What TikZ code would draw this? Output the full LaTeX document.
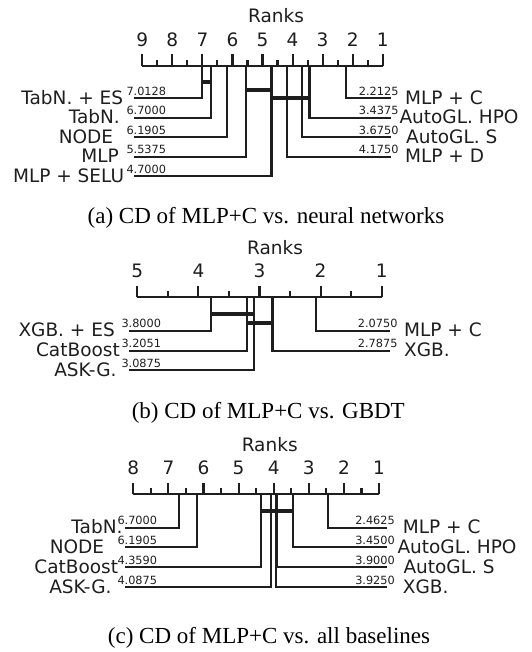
\documentclass[tikz,border=0pt]{standalone}
\usepackage{fontspec}
\setmainfont{Liberation Serif}
\newfontfamily\dejavu{DejaVu Sans}
\definecolor{inkColor}{RGB}{30,30,30}
\tikzstyle{cdFigure} = [x = 1pt, y = -1pt]
\tikzstyle{rankLine} = [color=inkColor, line width=2.1pt]
\tikzstyle{cliqueLine} = [color=inkColor, line width=4pt]
\tikzstyle{methodText} = [text=inkColor, inner sep=0pt, font=\dejavu\fontsize{18.5}{20}\selectfont]
\tikzstyle{rankValue} = [text=inkColor, inner sep=0pt, font=\dejavu\fontsize{11.3}{12}\selectfont]
\tikzstyle{captionText} = [text=black, inner sep=0pt, font=\fontsize{23}{25}\selectfont]
\newcommand{\rankAxis}[6]{
  \pgfmathsetmacro{\axisY}{#2}
  \pgfmathsetmacro{\axisLeft}{#3}
  \pgfmathsetmacro{\axisRight}{#4}
  \pgfmathsetmacro{\rankCount}{#5}
  \pgfmathsetmacro{\lineLeft}{#3 - 8.5}
  \pgfmathsetmacro{\lineRight}{#4 + 8}
  \pgfmathsetmacro{\halfStep}{(#4 - #3) / (2 * #5 - 2)}
  \pgfmathtruncatemacro{\tickCount}{2 * #5 - 2}
  \draw [rankLine] (#3, #2) -- (#4, #2);
  \foreach \tick in {0,...,\tickCount} {
    \pgfmathsetmacro{\tickX}{#3 + \tick * \halfStep}
    \ifodd \tick
      \draw [rankLine] (\tickX, #2) -- + (0, -6);
    \else
      \pgfmathtruncatemacro{\tickRank}{#5 - \tick / 2}
      \draw [rankLine] (\tickX, #2) -- + (0, -11.5);
      \node [methodText, anchor=base] (#1-tick\tickRank) at (\tickX, #2 - 19.5) {\tickRank};
    \fi
  }
  \node [methodText, anchor=base] (#1-ranks) at (#6, #2 - 43) {Ranks};
}
\newcommand{\rankToX}[1]{\pgfmathsetmacro{\rankX}{\axisRight - (#1 - 1) * (\axisRight - \axisLeft) / (\rankCount - 1)}}
\newcommand{\leftMethod}[5]{
  \rankToX{#2}
  \draw [rankLine] (\rankX, \axisY) |- (\lineLeft, #3);
  \node [rankValue, anchor=base west] (#1-value) at (\lineLeft - 7.5, #3 - 3) {#2};
  \node [methodText, anchor=base east] (#1) at (#5, #3 + 6) {#4};
}
\newcommand{\rightMethod}[5]{
  \rankToX{#2}
  \draw [rankLine] (\rankX, \axisY) |- (\lineRight, #3);
  \node [rankValue, anchor=base east] (#1-value) at (\lineRight + 8, #3 - 3) {#2};
  \node [methodText, anchor=base west] (#1) at (#5, #3 + 6) {#4};
}
\newcommand{\cliqueBar}[3]{
  \rankToX{#1}\let\barStart\rankX
  \rankToX{#2}\let\barEnd\rankX
  \draw [cliqueLine] (\barStart - 1, #3) -- (\barEnd + 1, #3);
}
\begin{document}
\begin{tikzpicture}[cdFigure]
\useasboundingbox (0,0) rectangle (531,652);
% (a) neural networks
\rankAxis{a}{66}{142.3}{382.7}{9}{276}
\leftMethod{aTabES}{7.0128}{98.3}{TabN. + ES}{123.3}
\leftMethod{aTab}{6.7000}{117.8}{TabN.}{120}
\leftMethod{aNode}{6.1905}{137.3}{NODE}{113.3}
\leftMethod{aMlp}{5.5375}{156.8}{MLP}{119}
\leftMethod{aSelu}{4.7000}{176.3}{MLP + SELU}{124.3}
\rightMethod{aMlpC}{2.2125}{98.3}{MLP + C}{405}
\rightMethod{aHpo}{3.4375}{117.8}{AutoGL. HPO}{399.3}
\rightMethod{aS}{3.6750}{137.3}{AutoGL. S}{406}
\rightMethod{aMlpD}{4.1750}{156.8}{MLP + D}{405}
\cliqueBar{7.0128}{6.7000}{82.3}
\cliqueBar{5.5375}{4.7000}{90.5}
\cliqueBar{4.7000}{3.4375}{98.3}
\node [captionText, anchor=base] (captionA) at (266, 223) {(a) CD of MLP+C vs. neural networks};
% (b) GBDT
\rankAxis{b}{297.3}{137.3}{381.7}{5}{275}
\leftMethod{bXgbES}{3.8000}{330.7}{XGB. + ES}{115}
\leftMethod{bCat}{3.2051}{350.7}{CatBoost}{120}
\leftMethod{bAsk}{3.0875}{370.3}{ASK-G.}{116.7}
\rightMethod{bMlpC}{2.0750}{330.7}{MLP + C}{404}
\rightMethod{bXgb}{2.7875}{350.7}{XGB.}{404}
\cliqueBar{3.8000}{3.0875}{314.3}
\cliqueBar{3.2051}{2.7875}{322.7}
\node [captionText, anchor=base] (captionB) at (268.3, 418) {(b) CD of MLP+C vs. GBDT};
% (c) all baselines
\rankAxis{c}{494}{133.3}{379}{8}{269.7}
\leftMethod{cTab}{6.7000}{527.7}{TabN.}{122.7}
\leftMethod{cNode}{6.1905}{547.3}{NODE}{104.3}
\leftMethod{cCat}{4.3590}{567}{CatBoost}{118.3}
\leftMethod{cAsk}{4.0875}{587}{ASK-G.}{111.7}
\rightMethod{cMlpC}{2.4625}{527.7}{MLP + C}{402.7}
\rightMethod{cHpo}{3.4500}{547.3}{AutoGL. HPO}{397.3}
\rightMethod{cS}{3.9000}{567}{AutoGL. S}{403.3}
\rightMethod{cXgb}{3.9250}{587}{XGB.}{402.7}
\cliqueBar{4.3590}{3.4500}{511.3}
\node [captionText, anchor=base] (captionC) at (269, 643) {(c) CD of MLP+C vs. all baselines};
\end{tikzpicture}
\end{document}
